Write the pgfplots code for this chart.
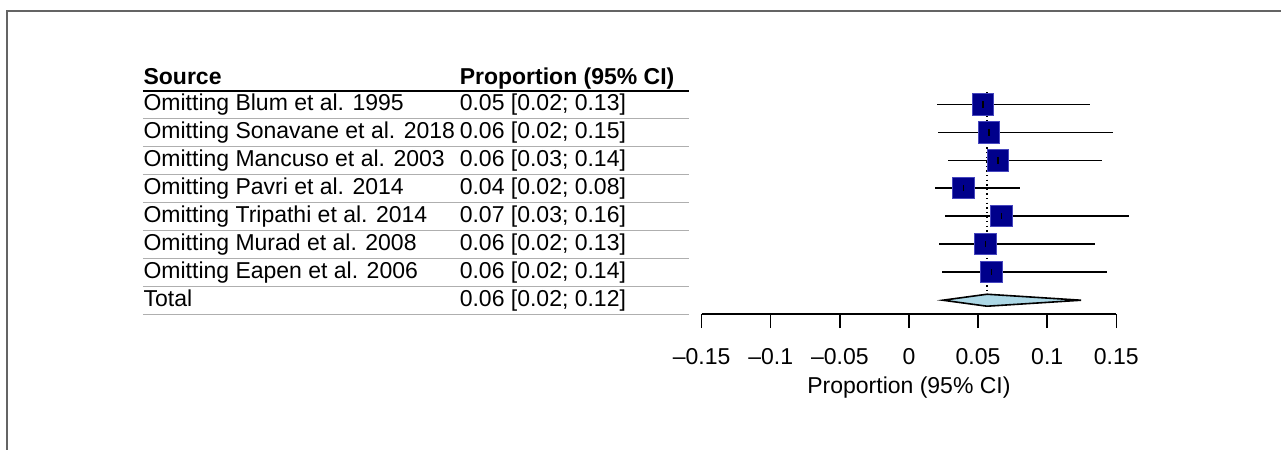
\documentclass[border=0pt]{standalone}
\usepackage{pgfplots}
\pgfplotsset{compat=1.18}
\usepackage{pgfplotstable}
\usepackage{fontspec}
\setmainfont{Liberation Sans}

\definecolor{sqfill}{RGB}{0,0,139}
\definecolor{sqedge}{RGB}{70,70,190}
\definecolor{diamfill}{RGB}{173,216,230}
\definecolor{sepgray}{RGB}{175,175,175}
\definecolor{framegray}{RGB}{100,100,100}

% leave-one-out estimates: row position, proportion, lower and upper 95% limits
\pgfplotstableread{
y est lo hi
8 0.0534 0.0206 0.1310
7 0.0577 0.0211 0.1474
6 0.0645 0.0286 0.1394
5 0.0394 0.0187 0.0804
4 0.0669 0.0264 0.1594
3 0.0553 0.0216 0.1345
2 0.0597 0.0237 0.1430
}\studies

% pooled estimate drawn as a diamond
\pgfplotstableread{
x y
0.0245 1
0.0565 1.214
0.1245 1
0.0565 0.786
0.0245 1
}\pooled

\begin{document}
\begin{tikzpicture}[font=\fontsize{11.5}{13.8}\selectfont]
% page area and outer frame
\path (0,0) rectangle (641pt,-225pt);
\draw[framegray, line width=1pt] (3.4pt,-224.9pt) -- (3.4pt,-5.4pt) -- (640.9pt,-5.4pt);

% table headers
\node[anchor=base west, inner sep=0] at (71.65pt,-42.5pt) {\bfseries Source};
\node[anchor=base west, inner sep=0] at (229.85pt,-42.5pt) {\bfseries Proportion (95\% CI)};
\draw[black, line width=1pt] (71.5pt,-45.35pt) -- (344.5pt,-45.35pt);

% table rows
\foreach \name/\ci [count=\i from 0] in {
  Omitting Blum et al. 1995/{0.05 [0.02; 0.13]},
  Omitting Sonavane et al. 2018/{0.06 [0.02; 0.15]},
  Omitting Mancuso et al. 2003/{0.06 [0.03; 0.14]},
  Omitting Pavri et al. 2014/{0.04 [0.02; 0.08]},
  Omitting Tripathi et al. 2014/{0.07 [0.03; 0.16]},
  Omitting Murad et al. 2008/{0.06 [0.02; 0.13]},
  Omitting Eapen et al. 2006/{0.06 [0.02; 0.14]},
  Total/{0.06 [0.02; 0.12]}} {
  \node[anchor=base west, inner sep=0] at (71.65pt,{-55.35pt-14pt*\i}) {\name};
  \node[anchor=base west, inner sep=0] at (229.85pt,{-55.35pt-14pt*\i}) {\ci};
  \draw[sepgray, line width=0.75pt] (71.5pt,{-59.3pt-14pt*\i}) -- (344.5pt,{-59.3pt-14pt*\i});
}

\begin{axis}[
  set layers=standard,
  at={(351pt,-157.2pt)}, anchor=south west,
  scale only axis, width=207.5pt, height=112pt,
  xmin=-0.15, xmax=0.15, ymin=0.5, ymax=8.5,
  enlargelimits=false, clip=false,
  axis x line*=bottom, axis y line=none,
  axis line style={black, line width=0.75pt},
  xtick={-0.15,-0.1,-0.05,0,0.05,0.1,0.15},
  xticklabels={--0.15,--0.1,--0.05,0,0.05,0.1,0.15},
  tick align=outside, major tick length=7pt,
  xtick style={black, line width=0.75pt},
  xticklabel style={anchor=base, inner sep=0pt, yshift=-18.35pt},
  xlabel={Proportion (95\% CI)},
  xlabel style={at={(axis description cs:0.5,0)}, anchor=base, inner sep=0pt, yshift=-39.85pt},
]
% reference line at the pooled estimate, behind the squares
\addplot[on layer=axis background, black, line width=0.75pt, dash pattern=on 0.7pt off 1.6pt]
  coordinates {(0.0565,8.43) (0.0565,1.214)};
% study squares, below the interval lines
\addplot[only marks, mark=square*, mark size=5.3pt, mark layer=axis background,
  mark options={fill=sqfill, draw=sqedge, line width=0.4pt}]
  table[x=est, y=y] {\studies};
% confidence intervals with a tick at each estimate
\addplot[only marks, black, mark=|, mark size=1.6pt, mark options={line width=0.8pt},
  error bars/.cd, x dir=both, x explicit, error mark=none,
  error bar style={black, line width=0.8pt}]
  table[x=est, y=y,
    x error plus expr=\thisrow{hi}-\thisrow{est},
    x error minus expr=\thisrow{est}-\thisrow{lo}] {\studies};
% pooled diamond
\addplot[fill=diamfill, draw=black, line width=0.8pt] table[x=x, y=y] {\pooled} -- cycle;
\end{axis}
\end{tikzpicture}
\end{document}
